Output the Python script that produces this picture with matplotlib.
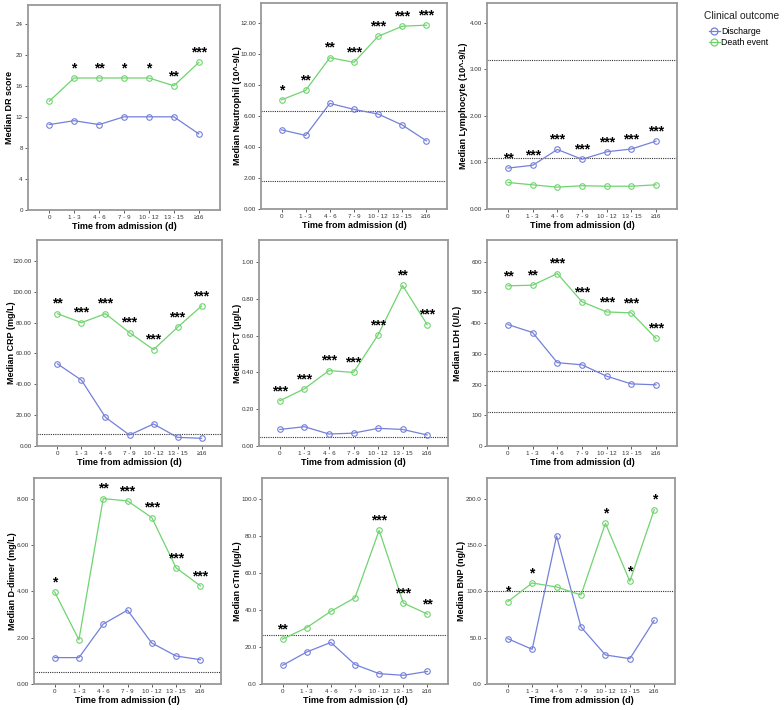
import matplotlib
matplotlib.use("Agg")
import matplotlib.pyplot as plt
from matplotlib.lines import Line2D

plt.rcParams['font.family'] = ['Liberation Sans', 'DejaVu Sans']

time_labels = ["0", "1 - 3", "4 - 6", "7 - 9", "10 - 12", "13 - 15", "≥16"]

# medians per marker: discharge / death event
dr_discharge = [11.0, 11.5, 11.0, 12.0, 12.0, 12.0, 9.8]
dr_death = [14.0, 17.0, 17.0, 17.0, 17.0, 16.0, 19.0]
dr_stars = ["", "*", "**", "*", "*", "**", "***"]

neu_discharge = [5.11, 4.75, 6.82, 6.43, 6.13, 5.42, 4.40]
neu_death = [7.05, 7.66, 9.77, 9.47, 11.15, 11.80, 11.87]
neu_stars = ["*", "**", "**", "***", "***", "***", "***"]
neu_ref = [1.8, 6.3]

lym_discharge = [0.88, 0.94, 1.28, 1.07, 1.23, 1.29, 1.46]
lym_death = [0.57, 0.52, 0.47, 0.50, 0.49, 0.49, 0.52]
lym_stars = ["**", "***", "***", "***", "***", "***", "***"]
lym_ref = [1.1, 3.2]

crp_discharge = [53.3, 42.7, 18.6, 7.1, 14.3, 5.6, 5.0]
crp_death = [85.8, 80.0, 85.8, 73.5, 62.5, 77.0, 90.8]
crp_stars = ["**", "***", "***", "***", "***", "***", "***"]
crp_ref = [8.0]

pct_discharge = [0.09, 0.105, 0.065, 0.07, 0.096, 0.09, 0.06]
pct_death = [0.246, 0.311, 0.41, 0.40, 0.604, 0.873, 0.66]
pct_stars = ["***", "***", "***", "***", "***", "**", "***"]
pct_ref = [0.05]

ldh_discharge = [395, 369, 271, 264, 227, 202, 199]
ldh_death = [521, 523, 561, 469, 436, 433, 350]
ldh_stars = ["**", "**", "***", "***", "***", "***", "***"]
ldh_ref = [109, 245]

dd_discharge = [1.14, 1.14, 2.59, 3.19, 1.77, 1.21, 1.05]
dd_death = [3.98, 1.91, 8.01, 7.91, 7.19, 5.02, 4.24]
dd_stars = ["*", "", "**", "***", "***", "***", "***"]
dd_ref = [0.5]

ctni_discharge = [10.1, 17.3, 22.5, 10.5, 5.6, 4.7, 6.8]
ctni_death = [24.3, 30.5, 39.3, 46.7, 83.1, 43.8, 37.8]
ctni_stars = ["**", "", "", "", "***", "***", "**"]
ctni_ref = [26.3]

bnp_discharge = [49.0, 37.5, 160.0, 61.6, 31.4, 27.4, 68.8]
bnp_death = [89.0, 109.2, 104.9, 96.2, 173.7, 111.0, 188.5]
bnp_stars = ["*", "*", "", "", "*", "*", "*"]
bnp_ref = [100.0]

blue = "#7480da"
green = "#6fd46f"

panels = [
    # (ylabel, discharge, death, stars, refs, ymax, tickstep, fmt, box l,t,r,b px, ylabel x px)
    ("Median DR score", dr_discharge, dr_death, dr_stars, [], 26.4, 4, "%d", (28, 5, 220, 210), 10),
    ("Median Neutrophil (10^-9/L)", neu_discharge, neu_death, neu_stars, neu_ref, 13.3, 2, "%.2f", (261, 3, 447, 209), 237),
    ("Median Lymphocyte (10^-9/L)", lym_discharge, lym_death, lym_stars, lym_ref, 4.43, 1, "%.2f", (487, 3, 677, 209), 463),
    ("Median CRP (mg/L)", crp_discharge, crp_death, crp_stars, crp_ref, 133.6, 20, "%.2f", (37, 240, 222, 446), 12),
    ("Median PCT (μg/L)", pct_discharge, pct_death, pct_stars, pct_ref, 1.12, 0.2, "%.2f", (259, 240, 448, 446), 237),
    ("Median LDH (U/L)", ldh_discharge, ldh_death, ldh_stars, ldh_ref, 670, 100, "%d", (487, 240, 677, 446), 457),
    ("Median D-dimer (mg/L)", dd_discharge, dd_death, dd_stars, dd_ref, 8.9, 2, "%.2f", (34, 478, 221, 684), 13),
    ("Median cTnI (μg/L)", ctni_discharge, ctni_death, ctni_stars, ctni_ref, 111.4, 20, "%.1f", (262, 478, 448, 684), 238),
    ("Median BNP (ng/L)", bnp_discharge, bnp_death, bnp_stars, bnp_ref, 222.7, 50, "%.1f", (487, 478, 675, 684), 462),
]

W, H = 784, 710
fig = plt.figure(figsize=(W / 100, H / 100), dpi=100)

for ylabel, dis, dea, stars, refs, ymax, step, fmt, (l, t, r, b), ylx in panels:
    ax = fig.add_axes([l / W, 1 - b / H, (r - l) / W, (b - t) / H])
    x = list(range(len(time_labels)))
    for ref in refs:
        ax.axhline(ref, color="#333333", lw=0.8, ls=(0, (1, 1)), zorder=1)
    ax.plot(x, dis, color=blue, lw=0.9, marker="o", ms=4, mfc="none", mew=0.8, zorder=3)
    ax.plot(x, dea, color=green, lw=0.9, marker="o", ms=4, mfc="none", mew=0.8, zorder=3)
    for i, s in enumerate(stars):
        if s:
            top = max(dis[i], dea[i])
            ax.annotate(s, (i, top), xytext=(0, 2), textcoords="offset points",
                        ha="center", va="bottom", fontsize=10, fontweight="bold")
    ax.set_xlim(-0.85, 6.85)
    ax.set_ylim(0, ymax)
    n = int(round(ymax // step))
    ticks = [k * step for k in range(n + 1)]
    ax.set_yticks(ticks)
    ax.set_yticklabels([fmt % v for v in ticks])
    ax.set_xticks(x)
    ax.set_xticklabels(time_labels)
    ax.tick_params(labelsize=4.5, length=2.5, width=0.6, color="#444444", pad=1.2,
                   labelcolor="#333333")
    ax.set_xlabel("Time from admission (d)", fontsize=6.5, fontweight="bold", labelpad=1.5)
    ax.set_ylabel(ylabel, fontsize=6.5, fontweight="bold", va="center")
    ax.yaxis.set_label_coords((ylx - l) / (r - l), 0.5)
    for sp in ax.spines.values():
        sp.set_color("#999999")
        sp.set_linewidth(1.3)

fig.text(704 / W, 1 - 16 / H, "Clinical outcome", fontsize=7.4, va="center", ha="left",
         color="#222222")
handles = [
    Line2D([], [], color=blue, lw=0.9, marker="o", ms=5, mfc="none", mew=0.9),
    Line2D([], [], color=green, lw=0.9, marker="o", ms=5, mfc="none", mew=0.9),
]
fig.legend(handles, ["Discharge", "Death event"],
           loc="upper left", bbox_to_anchor=(709 / W, 1 - 27 / H), frameon=False,
           fontsize=6.3, handlelength=1.2, handletextpad=0.15,
           labelspacing=0.2, borderpad=0, borderaxespad=0)

fig.savefig("out.png", dpi=100)
